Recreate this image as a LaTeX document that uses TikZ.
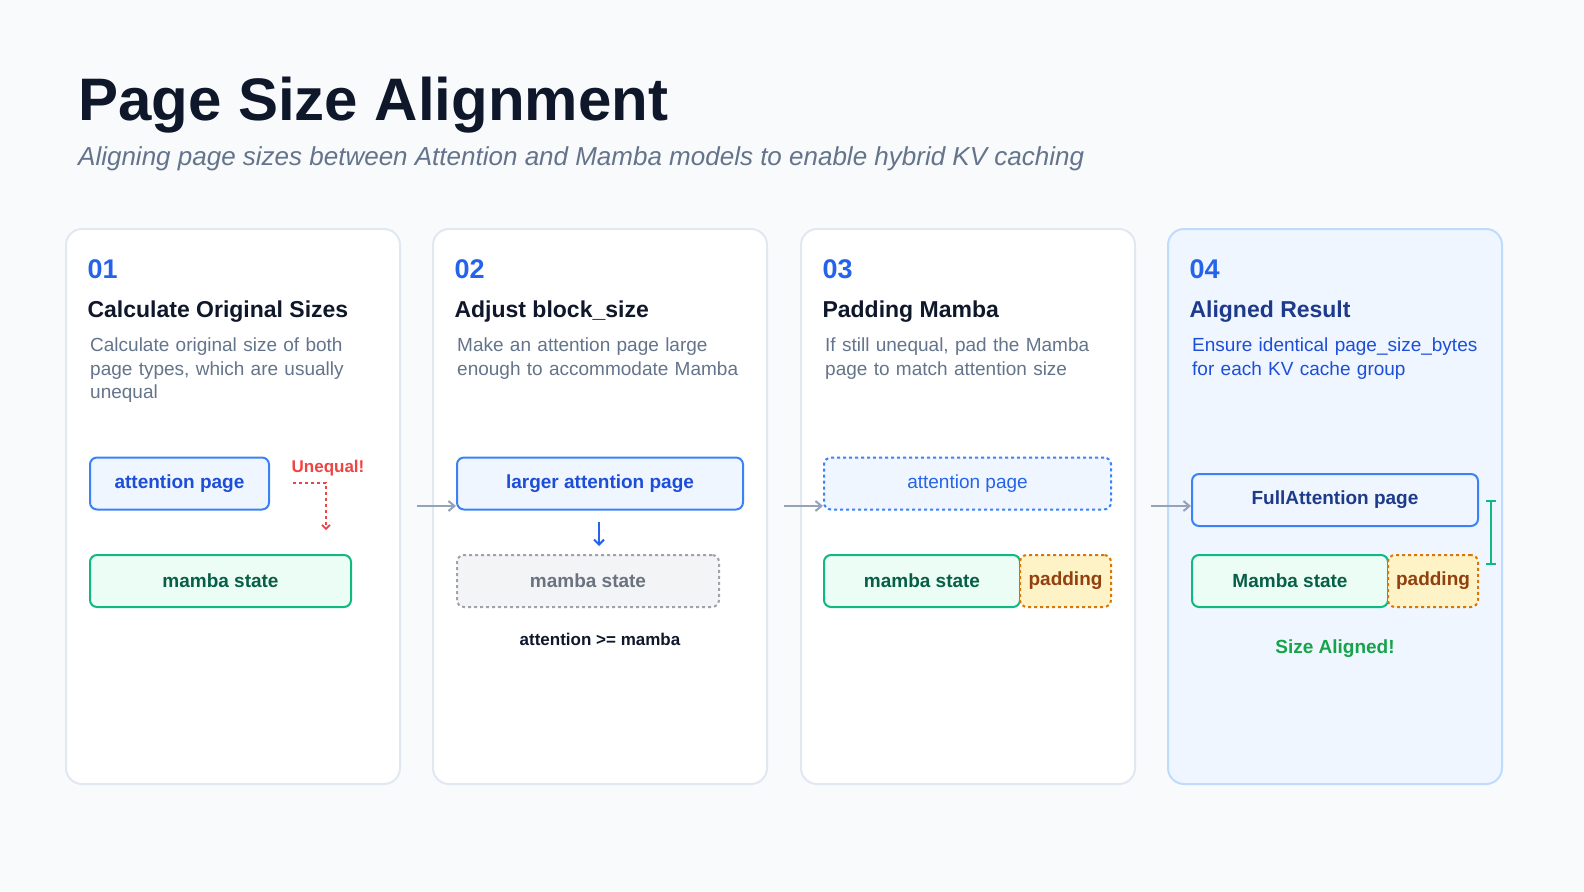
\documentclass[tikz,border=0pt]{standalone}
\usepackage{fontspec}
\setmainfont{Liberation Sans}
\usetikzlibrary{arrows.meta}
\definecolor{bgc}{HTML}{F8FAFC}
\definecolor{ink}{HTML}{0F172A}
\definecolor{slate}{HTML}{64748B}
\definecolor{cardline}{HTML}{E2E8F0}
\definecolor{blue}{HTML}{2563EB}
\definecolor{bluefill}{HTML}{EFF6FF}
\definecolor{bluedark}{HTML}{1E3A8A}
\definecolor{bluetext}{HTML}{1D4ED8}
\definecolor{blueline}{HTML}{BFDBFE}
\definecolor{bluebox}{HTML}{3B82F6}
\definecolor{green}{HTML}{10B981}
\definecolor{greenfill}{HTML}{ECFDF5}
\definecolor{greentext}{HTML}{065F46}
\definecolor{okgreen}{HTML}{16A34A}
\definecolor{orange}{HTML}{D97706}
\definecolor{orangefill}{HTML}{FEF3C7}
\definecolor{orangetext}{HTML}{92400E}
\definecolor{red}{HTML}{EF4444}
\definecolor{grayline}{HTML}{A1A1AA}
\definecolor{grayfill}{HTML}{F3F4F6}
\definecolor{graytext}{HTML}{6B7280}
\definecolor{arrowgray}{HTML}{94A3B8}
\tikzset{
  card/.style={draw=cardline, line width=2pt, fill=white, rounded corners=16pt},
  stepnum/.style={anchor=west, text=blue, font=\fontsize{27}{30}\selectfont\bfseries},
  head/.style={anchor=west, text=ink, font=\fontsize{23}{26}\selectfont\bfseries},
  desc/.style={anchor=north west, text=slate, align=left, text width=290pt,
    font=\fontsize{19}{23.5}\selectfont, inner sep=0pt},
  blk/.style={draw=bluebox, fill=bluefill, text=bluetext, line width=2pt, rounded corners=7pt,
    font=\fontsize{19}{22}\selectfont\bfseries, minimum height=52pt, inner sep=0pt},
  mam/.style={blk, draw=green, fill=greenfill, text=greentext},
  pad/.style={blk, draw=orange, fill=orangefill, text=orangetext, dashed},
  ghost/.style={blk, draw=grayline, fill=grayfill, text=graytext, dashed},
  flow/.style={draw=arrowgray, line width=2pt, -{Straight Barb[length=6pt,width=10pt]}},
}
\begin{document}
\begin{tikzpicture}[x=1pt, y=-1pt]
  \fill[bgc] (0,0) rectangle (1584,891);

  % heading
  \node[anchor=base west, text=ink, inner sep=0pt, font=\fontsize{60}{66}\selectfont\bfseries] (title) at (78,120) {Page Size Alignment};
  \node[anchor=base west, text=slate, inner sep=0pt, font=\fontsize{26}{30}\selectfont\itshape] (subtitle) at (78,165) {Aligning page sizes between Attention and Mamba models to enable hybrid KV caching};

  % cards
  \draw[card] (66,229) rectangle (400,784);
  \draw[card] (433,229) rectangle (767,784);
  \draw[card] (801,229) rectangle (1135,784);
  \draw[card, draw=blueline, fill=bluefill] (1168,229) rectangle (1502,784);

  % card 1
  \node[stepnum] (n1) at (84,269) {01};
  \node[head] (h1) at (84,312) {Calculate Original Sizes};
  \node[desc] (d1) at (90,338) {Calculate original size of both page types, which are usually unequal};
  \node[blk, minimum width=179pt] (att1) at (179.5,483.5) {attention page};
  \node[mam, minimum width=261pt] (mam1) at (220.5,581) {mamba state};
  \node[text=red, font=\fontsize{17}{20}\selectfont\bfseries] (uneq) at (328,468) {Unequal!};
  \coordinate (u0) at (293,483);
  \coordinate (u1) at (326,483);
  \coordinate (u2) at (326,530);
  \draw[red, line width=1.6pt, dashed, -{Straight Barb[length=4pt,width=8pt]}] (u0) -- (u1) -- (u2);

  % card 2
  \node[stepnum] (n2) at (451,269) {02};
  \node[head] (h2) at (451,312) {Adjust block\_size};
  \node[desc] (d2) at (457,338) {Make an attention page large enough to accommodate Mamba};
  \node[blk, minimum width=286pt] (att2) at (600,483.5) {larger attention page};
  \node[ghost, minimum width=262pt] (mam2) at (588,581) {mamba state};
  \coordinate (g0) at (599,522);
  \coordinate (g1) at (599,546);
  \draw[blue, line width=2pt, -{Straight Barb[length=5pt,width=10pt]}] (g0) -- (g1);
  \node[text=ink, font=\fontsize{17}{20}\selectfont\bfseries] (cmp) at (600,639) {attention >= mamba};

  % card 3
  \node[stepnum] (n3) at (819,269) {03};
  \node[head] (h3) at (819,312) {Padding Mamba};
  \node[desc] (d3) at (825,338) {If still unequal, pad the Mamba page to match attention size};
  \node[blk, dashed, text=blue, font=\fontsize{19}{22}\selectfont, minimum width=287pt] (att3) at (967.5,483.5) {attention page};
  \node[mam, minimum width=196pt] (mam3) at (922,581) {mamba state};
  \node[pad, minimum width=91pt] (pad3) at (1065.5,581) {padding};

  % card 4
  \node[stepnum] (n4) at (1186,269) {04};
  \node[head, text=bluedark] (h4) at (1186,312) {Aligned Result};
  \node[desc, text=bluetext] (d4) at (1192,338) {Ensure identical page\_size\_bytes for each KV cache group};
  \node[blk, text=bluedark, minimum width=286pt] (att4) at (1335,500) {FullAttention page};
  \node[mam, minimum width=196pt] (mam4) at (1290,581) {Mamba state};
  \node[pad, minimum width=90pt] (pad4) at (1433,581) {padding};
  \coordinate (b0) at (1491,500);
  \coordinate (b1) at (1491,565);
  \draw[green, line width=2.4pt, {Bar[width=10pt]}-{Bar[width=10pt]}] (b0) -- (b1);
  \node[text=okgreen, font=\fontsize{19}{22}\selectfont\bfseries] (ok) at (1335,649) {Size Aligned!};

  % arrows between cards
  \coordinate (a1) at (417,506);
  \coordinate (a2) at (784,506);
  \coordinate (a3) at (1151,506);
  \draw[flow] (a1) -- (att2.west |- a1);
  \draw[flow] (a2) -- (att3.west |- a2);
  \draw[flow] (a3) -- (att4.west |- a3);
\end{tikzpicture}
\end{document}
